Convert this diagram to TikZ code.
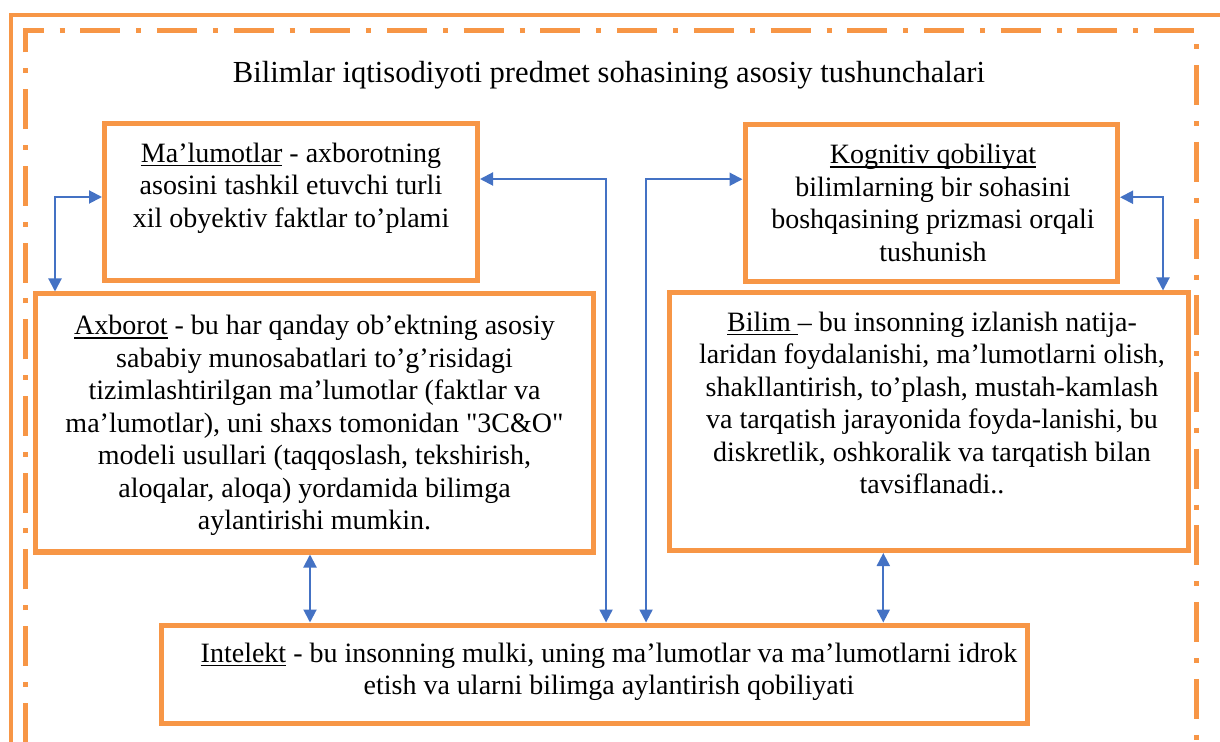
\documentclass[tikz,border=0pt]{standalone}
\usepackage{fontspec}
\setmainfont{Liberation Serif}
\usetikzlibrary{arrows.meta}

\definecolor{boxorange}{RGB}{247,150,70}
\definecolor{linkblue}{RGB}{68,114,196}

\newsavebox{\termbox}
\newcommand{\termul}[1]{\sbox{\termbox}{#1}\rlap{\rule[-2pt]{\wd\termbox}{0.7pt}}\usebox{\termbox}}

\tikzset{
	conceptbox/.style={draw=boxorange, line width=2.5pt, inner sep=0pt},
	concepttext/.style={align=center, inner sep=0pt, anchor=north, font=\fontsize{14pt}{16.25pt}\selectfont},
	link/.style={draw=linkblue, line width=1pt, >={Triangle[length=6.5pt,width=6.5pt]}, <->},
}

\begin{document}
\begin{tikzpicture}[x=0.5pt, y=-0.5pt]
	\useasboundingbox (0,0) rectangle (1220,742);
	\clip (0,0) rectangle (1220,742);
	
	%frames
	\draw[boxorange, line width=2pt] (11,760) -- (11,15) -- (1240,15);
	\draw[boxorange, line width=2.5pt, dash pattern=on 20pt off 8pt on 2.5pt off 7.85pt, dash phase=29.75pt] (25.5,760) -- (25.5,30.5) -- (1196,30.5) -- (1196,760);
	
	%boxes
	\node[conceptbox, minimum width=186.5pt, minimum height=78.5pt] (mal) at (291,202) {};
	\node[conceptbox, minimum width=186.25pt, minimum height=78.25pt] (kog) at (931.25,203.25) {};
	\node[conceptbox, minimum width=279pt, minimum height=129pt] (axb) at (314.5,423) {};
	\node[conceptbox, minimum width=259.5pt, minimum height=128.75pt] (bil) at (928.5,421.75) {};
	\node[conceptbox, minimum width=432.75pt, minimum height=49pt] (int) at (594.25,674) {};
	
	%labels
	\node[font=\fontsize{15.3pt}{18pt}\selectfont, anchor=base] (title) at (609,83) {Bilimlar iqtisodiyoti predmet sohasining asosiy tushunchalari};
	%
	\node[concepttext] (malt) at (291,142.6) {\termul{Ma’lumotlar} - axborotning\\ asosini tashkil etuvchi turli\\ xil obyektiv faktlar to’plami};
	\node[concepttext] (kogt) at (933,144) {\termul{Kognitiv qobiliyat}\\ bilimlarning bir sohasini\\ boshqasining prizmasi orqali\\ tushunish};
	\node[concepttext] (axbt) at (314.5,315) {\termul{Axborot} - bu har qanday ob’ektning asosiy\\ sababiy munosabatlari to’g’risidagi\\ tizimlashtirilgan ma’lumotlar (faktlar va\\ ma’lumotlar), uni shaxs tomonidan \textquotedbl 3C\&O\textquotedbl\\ modeli usullari (taqqoslash, tekshirish,\\ aloqalar, aloqa) yordamida bilimga\\ aylantirishi mumkin.};
	\node[concepttext] (bilt) at (932,311.4) {\termul{Bilim\ }– bu insonning izlanish natija-\\ laridan foydalanishi, ma’lumotlarni olish,\\ shakllantirish, to’plash, mustah-kamlash\\ va tarqatish jarayonida foyda-lanishi, bu\\ diskretlik, oshkoralik va tarqatish bilan\\ tavsiflanadi..};
	\node[concepttext] (intt) at (609,642.6) {\termul{Intelekt} - bu insonning mulki, uning ma’lumotlar va ma’lumotlarni idrok\\ etish va ularni bilimga aylantirish qobiliyati};
	
	%arrows
	\draw[link] ([yshift=2.5pt]mal.west) -| ([xshift=11pt]axb.north west);
	\draw[link] ([yshift=3pt]kog.east) -| ([xshift=-13.75pt]bil.north east);
	\draw[link] ([yshift=11.5pt]mal.east) -| ([xshift=5.9pt]int.north);
	\draw[link] ([yshift=12pt]kog.west) -| ([xshift=25.9pt]int.north);
	\draw[link] ([xshift=-2.25pt]axb.south) -- ([xshift=-2.25pt]axb.south |- int.north);
	\draw[link] ([xshift=-22.6pt]bil.south) -- ([xshift=-22.6pt]bil.south |- int.north);
\end{tikzpicture}
\end{document}
